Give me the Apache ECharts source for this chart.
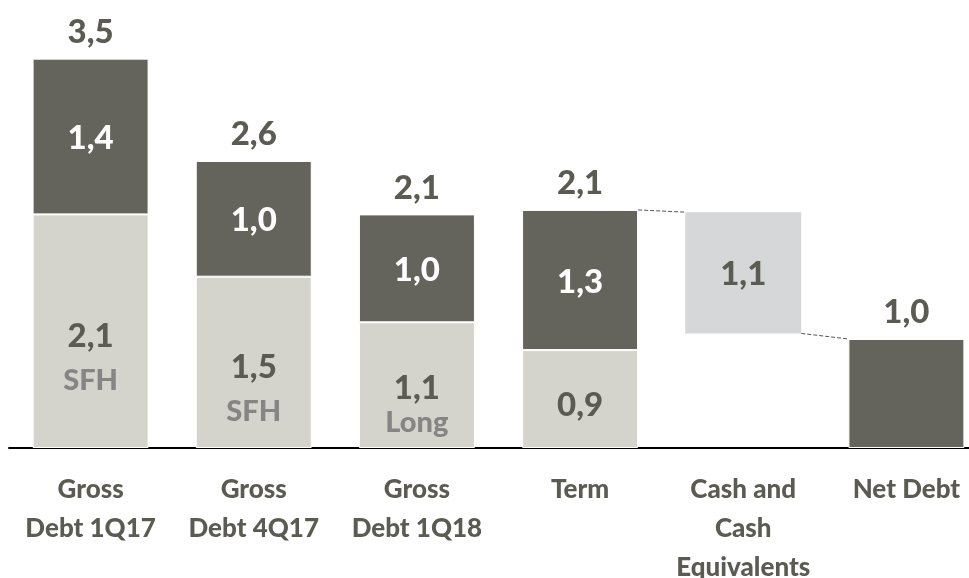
<!DOCTYPE html>
<html>
<head>
<meta charset="utf-8">
<script src="https://cdn.jsdelivr.net/npm/echarts@6/dist/echarts.min.js"></script>
<style>
  html, body { margin: 0; padding: 0; background: #fff; }
  #chart { width: 969px; height: 578px; }
</style>
</head>
<body>
<div id="chart"></div>
<script>
// Debt bridge (EUR bn): gross debt by period, then term, cash and net debt
var categories = ['Gross\nDebt 1Q17', 'Gross\nDebt 4Q17', 'Gross\nDebt 1Q18', 'Term', 'Cash and\nCash\nEquivalents', 'Net Debt'];

// lower (light) segment of each gross-debt column
var lowerValues = [2.1, 1.54, 1.13, 0.88, null, null];
var lowerTags = ['SFH', 'SFH', 'Long', '', '', ''];
// upper (dark) segment; Net Debt is a single dark column
var upperValues = [1.4, 1.04, 0.97, 1.26, null, 0.98];
// floating cash deduction: invisible base + visible block
var cashBase = [null, null, null, null, 1.03, null];
var cashValues = [null, null, null, null, 1.09, null];

var DARK = '#64645c';
var LIGHT = '#d4d4cc';
var CASH = '#d6d7d9';
var TEXT = '#5b5b53';
var TAG = '#858585';
var FONT = 'Lato';
var WEIGHT = 900;

function fmt(v) { return v.toFixed(1).replace('.', ','); }

// stack totals shown above each column
var totals = categories.map(function (c, i) {
  if (cashValues[i] != null) return null;
  return (lowerValues[i] || 0) + (upperValues[i] || 0);
});

// dashed connectors: Term top -> Cash top, Cash bottom -> Net Debt top
var connectors = [
  [3, totals[3], 4, cashBase[4] + cashValues[4]],
  [4, cashBase[4], 5, totals[5]]
];

// label layout inside the light segments: short segments get a tighter tag line
function lowerLabel(v, i) {
  var tag = lowerTags[i];
  if (!tag) {
    return { show: true, position: 'inside', offset: [0, 6], formatter: '{v|' + fmt(v) + '}' };
  }
  var tight = v < 1.3;
  return {
    show: true,
    position: 'inside',
    offset: tight ? [0, 13] : [0, 25],
    formatter: '{v|' + fmt(v) + '}\n{' + (tight ? 'tt' : 't') + '|' + tag + '}'
  };
}

var chart = echarts.init(document.getElementById('chart'), null, { renderer: 'canvas' });

var option = {
  animation: false,
  backgroundColor: '#ffffff',
  grid: { left: 9, right: -19, top: 3, bottom: 130, containLabel: false, outerBoundsMode: 'none' },
  xAxis: {
    type: 'category',
    data: categories,
    axisTick: { show: false },
    axisLine: { show: true, lineStyle: { color: '#000', width: 2 } },
    axisLabel: {
      interval: 0,
      margin: 22,
      color: TEXT,
      fontFamily: FONT,
      fontWeight: WEIGHT,
      fontSize: 26,
      lineHeight: 39
    }
  },
  yAxis: {
    type: 'value',
    min: 0,
    max: 4,
    show: false,
    splitLine: { show: false }
  },
  series: [
    {
      name: 'base',
      type: 'bar',
      stack: 'debt',
      barWidth: 116,
      silent: true,
      itemStyle: { color: 'transparent' },
      data: cashBase
    },
    {
      name: 'lower',
      type: 'bar',
      stack: 'debt',
      barWidth: 116,
      itemStyle: { color: LIGHT, borderColor: '#fff', borderWidth: 1 },
      data: lowerValues.map(function (v, i) {
        if (v == null) return null;
        return { value: v, label: lowerLabel(v, i) };
      }),
      label: {
        rich: {
          v: { fontFamily: FONT, fontWeight: WEIGHT, fontSize: 33, color: TEXT, lineHeight: 48 },
          t: { fontFamily: FONT, fontWeight: WEIGHT, fontSize: 29, color: TAG, lineHeight: 40 },
          tt: { fontFamily: FONT, fontWeight: WEIGHT, fontSize: 29, color: TAG, lineHeight: 20 }
        }
      }
    },
    {
      name: 'upper',
      type: 'bar',
      stack: 'debt',
      barWidth: 116,
      itemStyle: { color: DARK, borderColor: '#fff', borderWidth: 1 },
      data: upperValues.map(function (v, i) {
        if (v == null) return null;
        var single = lowerValues[i] == null;
        return {
          value: v,
          label: {
            show: !single,
            position: 'inside',
            offset: [0, 2],
            formatter: fmt(v),
            fontFamily: FONT,
            fontWeight: WEIGHT,
            fontSize: 33,
            color: '#ffffff'
          }
        };
      })
    },
    {
      name: 'cash',
      type: 'bar',
      stack: 'debt',
      barWidth: 116,
      itemStyle: { color: CASH },
      label: {
        show: true,
        position: 'inside',
        offset: [0, 2],
        formatter: function (p) { return fmt(p.value); },
        fontFamily: FONT,
        fontWeight: WEIGHT,
        fontSize: 33,
        color: TEXT
      },
      data: cashValues
    },
    {
      name: 'total',
      type: 'bar',
      stack: 'debt',
      barWidth: 116,
      silent: true,
      itemStyle: { color: 'transparent' },
      data: totals.map(function (t) { return t == null ? null : 0; }),
      label: {
        show: true,
        position: 'top',
        distance: 10,
        formatter: function (p) {
          var t = totals[p.dataIndex];
          return t == null ? '' : fmt(t);
        },
        fontFamily: FONT,
        fontWeight: WEIGHT,
        fontSize: 33,
        color: TEXT
      }
    },
    {
      name: 'connectors',
      type: 'custom',
      silent: true,
      z: 5,
      data: connectors,
      renderItem: function (params, api) {
        var half = api.size([1, 0])[0] / 2 * (116 / 163);
        var p1 = api.coord([api.value(0), api.value(1)]);
        var p2 = api.coord([api.value(2), api.value(3)]);
        return {
          type: 'line',
          shape: { x1: p1[0] + half, y1: p1[1], x2: p2[0] - half, y2: p2[1] },
          style: { stroke: '#555', lineWidth: 1, lineDash: [4, 2] }
        };
      },
      encode: { x: [0, 2], y: [1, 3] }
    }
  ]
};

chart.setOption(option);
</script>
</body>
</html>
